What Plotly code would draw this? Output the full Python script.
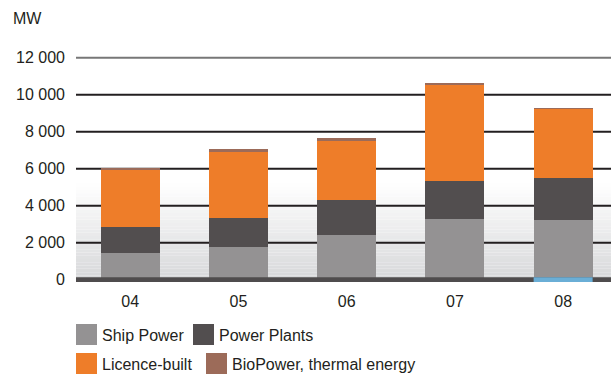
import plotly.graph_objects as go

years = ["04", "05", "06", "07", "08"]
ship_power = [1450, 1770, 2420, 3280, 3230]
power_plants = [1380, 1570, 1890, 2040, 2270]
licence_built = [3080, 3580, 3170, 5220, 3730]
biopower = [130, 130, 180, 90, 50]

series_names = ["Ship Power", "Power Plants", "Licence-built", "BioPower, thermal energy"]
series_values = [ship_power, power_plants, licence_built, biopower]
series_colors = ["#949293", "#524e4f", "#ee7d29", "#9c6b59"]

tick_vals = [0, 2000, 4000, 6000, 8000, 10000, 12000]
tick_text = ["0", "2 000", "4 000", "6 000", "8 000", "10 000", "12 000"]

W, H = 611, 377
L, R, T, B = 76, 0, 40, 95
PW, PH = W - L - R, H - T - B
FONT = "Liberation Sans, Arial, sans-serif"
TXT = "#231f20"
BAR_W = 0.545
Y_RANGE = [-124, 12957]


def px2x(px):
    return (px - L) / PW


def py2y(py):
    return (H - B - py) / PH


fig = go.Figure()
for name, vals, col in zip(series_names, series_values, series_colors):
    fig.add_trace(go.Bar(x=years, y=vals, name=name, marker=dict(color=col, line=dict(width=0)),
                         width=BAR_W, showlegend=False))

shapes = []
# background gradient
n = 30
g_top, g_bot = 5200, Y_RANGE[0]
c_top, c_bot = (255, 255, 255), (214, 215, 217)
for i in range(n):
    y0 = g_bot + (g_top - g_bot) * i / n
    y1 = g_bot + (g_top - g_bot) * (i + 1) / n
    t = (i + 0.5) / n
    c = tuple(int(round(c_bot[k] + (c_top[k] - c_bot[k]) * t)) for k in range(3))
    shapes.append(dict(type="rect", xref="paper", yref="y", x0=0, x1=1, y0=y0, y1=y1,
                       fillcolor="rgb(%d,%d,%d)" % c, line=dict(width=0), layer="below"))
# gridlines
for v in tick_vals[1:]:
    col = "#777777" if v == tick_vals[-1] else TXT
    shapes.append(dict(type="line", xref="paper", yref="y", x0=0, x1=1, y0=v, y1=v,
                       line=dict(color=col, width=2), layer="below"))
# baseline
shapes.append(dict(type="rect", xref="paper", yref="y", x0=0, x1=1, y0=-135, y1=135,
                   fillcolor="#4f4c4d", line=dict(width=0), layer="above"))
# highlight on last year
last = len(years) - 1
shapes.append(dict(type="rect", xref="x", yref="y", x0=last - BAR_W / 2, x1=last + BAR_W / 2,
                   y0=-135, y1=135, fillcolor="#6aaed6", line=dict(width=0), layer="above"))

annotations = [dict(text="MW", xref="paper", yref="paper", x=px2x(11), y=py2y(18),
                    xanchor="left", yanchor="middle", showarrow=False,
                    font=dict(family=FONT, size=16, color=TXT))]

# custom legend
legend_pos = [(76, 334.5), (193, 334.5), (76, 363.5), (206, 363.5)]
S = 21
for name, col, (sx, cy) in zip(series_names, series_colors, legend_pos):
    shapes.append(dict(type="rect", xref="paper", yref="paper", x0=px2x(sx), x1=px2x(sx + S),
                       y0=py2y(cy + S / 2), y1=py2y(cy - S / 2), fillcolor=col,
                       line=dict(width=0)))
    annotations.append(dict(text=name, xref="paper", yref="paper", x=px2x(sx + S + 3), y=py2y(cy + 1),
                            xanchor="left", yanchor="middle", showarrow=False,
                            font=dict(family=FONT, size=16, color=TXT)))

fig.update_layout(
    width=W, height=H, margin=dict(l=L, r=R, t=T, b=B, pad=0),
    barmode="stack", bargap=0,
    paper_bgcolor="white", plot_bgcolor="white",
    shapes=shapes, annotations=annotations,
    font=dict(family=FONT, size=16, color=TXT),
    xaxis=dict(type="category", range=[-0.5, -0.5 + PW / 108.25], showgrid=False, zeroline=False,
               showline=False, ticks="", ticklabelstandoff=8,
               tickfont=dict(family=FONT, size=16, color=TXT)),
    yaxis=dict(range=Y_RANGE, tickvals=tick_vals, ticktext=tick_text, showgrid=False,
               zeroline=False, showline=False, ticks="", ticklabelstandoff=10,
               tickfont=dict(family=FONT, size=16, color=TXT)),
)

fig.write_html("out.html", config={"displayModeBar": False},
               post_script="document.body.style.margin='0';")
